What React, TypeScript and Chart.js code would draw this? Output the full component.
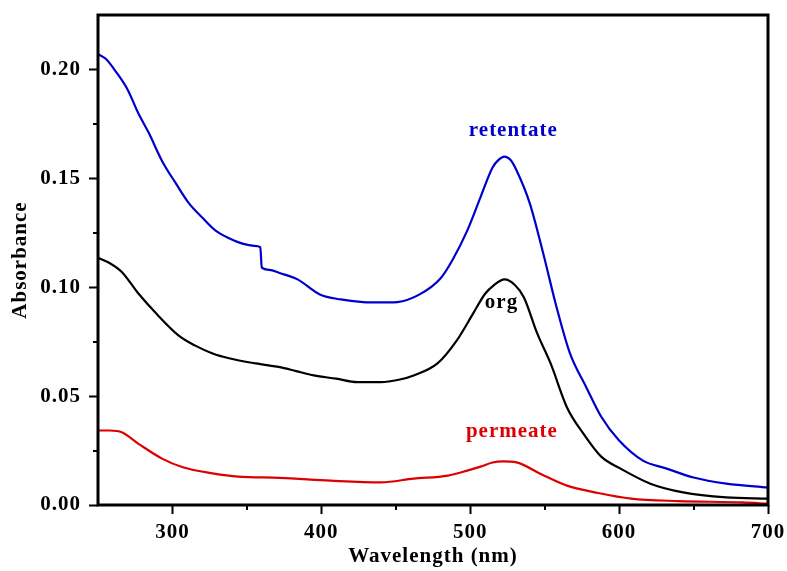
import React, { useEffect, useRef } from 'react';
import { Chart, registerables } from 'chart.js';

Chart.register(...registerables);

// ---- data ----
const retentateWl = [250, 255, 262, 270, 277, 284, 293, 302, 311, 320, 329, 338, 347, 355, 359, 360, 365, 372, 384, 399, 413, 428, 440, 451, 466, 480, 488, 498, 507, 515, 519, 523, 527, 531, 540, 549, 558, 567, 578, 588, 600, 616, 632, 650, 672, 700];
const retentateAbs = [0.207, 0.205, 0.199, 0.1906, 0.18, 0.171, 0.158, 0.148, 0.1386, 0.132, 0.126, 0.1225, 0.12, 0.119, 0.1184, 0.109, 0.108, 0.1065, 0.1036, 0.0967, 0.0944, 0.0932, 0.093, 0.0932, 0.0967, 0.104, 0.1124, 0.126, 0.1415, 0.155, 0.1585, 0.16, 0.1585, 0.1538, 0.1385, 0.1156, 0.0908, 0.0696, 0.054, 0.0405, 0.0296, 0.0204, 0.0167, 0.0126, 0.0098, 0.008];

const orgWl = [250, 258, 266, 277, 289, 304, 315, 327, 338, 356, 373, 383, 395, 410, 424, 440, 452, 462, 478, 491, 502, 510, 516, 523, 530, 536, 545, 554, 565, 576, 588, 601, 621, 643, 672, 700];
const orgAbs = [0.1135, 0.111, 0.107, 0.0972, 0.088, 0.0779, 0.0733, 0.0696, 0.0674, 0.065, 0.0632, 0.0615, 0.0595, 0.058, 0.0564, 0.0564, 0.0575, 0.0595, 0.065, 0.0756, 0.088, 0.097, 0.101, 0.1036, 0.101, 0.0954, 0.0788, 0.065, 0.0448, 0.0328, 0.0222, 0.0167, 0.0098, 0.0058, 0.0035, 0.0029];

const permeateWl = [250, 258, 266, 277, 293, 307, 327, 344, 372, 406, 440, 462, 485, 498, 507, 515, 522, 531, 547, 565, 586, 608, 640, 683, 700];
const permeateAbs = [0.0342, 0.0342, 0.0334, 0.0282, 0.0213, 0.0173, 0.0145, 0.013, 0.0125, 0.0112, 0.0104, 0.0121, 0.0135, 0.0158, 0.0176, 0.0195, 0.02, 0.0196, 0.0144, 0.0089, 0.0055, 0.0029, 0.0018, 0.0012, 0.0006];

const seriesNames = ['retentate', 'org', 'permeate'];
const seriesColors = ['#0000cc', '#000000', '#dd0000'];

const xTicks = [300, 400, 500, 600, 700];
const yTicks = [0, 0.05, 0.1, 0.15, 0.2];
const xMinorTicks = [350, 450, 550, 650];
const yMinorTicks = [0.025, 0.075, 0.125, 0.175];

const FONT_FAMILY = '"Liberation Serif", "Times New Roman", serif';

const framePlugin = {
  id: 'frameAndLabels',
  beforeLayout(chart: any) {
    chart.ctx.letterSpacing = '1px';
  },
  beforeDraw(chart: any) {
    chart.ctx.letterSpacing = '1px';
  },
  afterDatasetsDraw(chart: any, _args: any, opts: any) {
    const { ctx, chartArea, scales } = chart;
    const { left, top, right, bottom } = chartArea;
    const x = scales.x;
    const y = scales.y;
    ctx.save();
    ctx.strokeStyle = '#000';
    ctx.lineWidth = 2;
    ctx.beginPath();
    xMinorTicks.forEach((v) => {
      const px = Math.round(x.getPixelForValue(v));
      ctx.moveTo(px, bottom);
      ctx.lineTo(px, bottom + 5);
    });
    yMinorTicks.forEach((v) => {
      const py = Math.round(y.getPixelForValue(v));
      ctx.moveTo(left, py);
      ctx.lineTo(left - 5, py);
    });
    ctx.stroke();
    ctx.lineWidth = 3;
    ctx.strokeRect(left, top, right - left, bottom - top);
    ctx.font = `bold 21px ${FONT_FAMILY}`;
    ctx.letterSpacing = '1px';
    ctx.textAlign = 'center';
    ctx.textBaseline = 'alphabetic';
    (opts.labels || []).forEach((l: any) => {
      ctx.fillStyle = l.color;
      ctx.fillText(l.text, x.getPixelForValue(l.x), y.getPixelForValue(l.y));
    });
    ctx.restore();
  },
};

const zeroPad = (s: any) => {
  s.paddingTop = 0;
  s.paddingBottom = 0;
  s.paddingLeft = 0;
  s.paddingRight = 0;
};

export default function App() {
  const ref = useRef<HTMLCanvasElement>(null);

  useEffect(() => {
    if (!ref.current) return;
    const wls = [retentateWl, orgWl, permeateWl];
    const abss = [retentateAbs, orgAbs, permeateAbs];
    const tickFont = { family: FONT_FAMILY, size: 21, weight: 'bold' as const };
    const chart = new Chart(ref.current, {
      type: 'line',
      data: {
        datasets: seriesNames.map((name, i) => ({
          label: name,
          data: wls[i].map((w, j) => ({ x: w, y: abss[i][j] })),
          borderColor: seriesColors[i],
          backgroundColor: seriesColors[i],
          borderWidth: 2.2,
          pointRadius: 0,
          fill: false,
          cubicInterpolationMode: 'monotone' as const,
        })),
      },
      options: {
        responsive: false,
        animation: false,
        layout: { padding: { top: 15, right: 19, left: 0, bottom: 0 } },
        plugins: {
          legend: { display: false },
          tooltip: { enabled: false },
          frameAndLabels: {
            labels: [
              { text: seriesNames[0], color: seriesColors[0], x: 529, y: 0.1694 },
              { text: seriesNames[1], color: seriesColors[1], x: 521, y: 0.0903 },
              { text: seriesNames[2], color: seriesColors[2], x: 528, y: 0.031 },
            ],
          },
        } as any,
        scales: {
          x: {
            type: 'linear',
            min: 250,
            max: 700,
            afterBuildTicks: (s: any) => {
              s.ticks = xTicks.map((v) => ({ value: v }));
            },
            afterFit: (s: any) => {
              s.height = 66;
              zeroPad(s);
            },
            ticks: {
              font: tickFont,
              color: '#000',
              padding: 6,
              maxRotation: 0,
              autoSkip: false,
              callback: (v: any) => String(v),
            },
            grid: {
              drawOnChartArea: false,
              drawTicks: true,
              tickLength: 9,
              tickWidth: 2,
              tickColor: '#000',
              color: '#000',
            },
            border: { display: false },
            title: {
              display: true,
              text: 'Wavelength (nm)',
              color: '#000',
              font: tickFont,
              padding: { top: 0, bottom: 2 },
            },
          },
          y: {
            type: 'linear',
            min: 0,
            max: 0.225,
            afterBuildTicks: (s: any) => {
              s.ticks = yTicks.map((v) => ({ value: v }));
            },
            afterFit: (s: any) => {
              s.width = 98;
              zeroPad(s);
            },
            ticks: {
              font: tickFont,
              color: '#000',
              padding: 8,
              autoSkip: false,
              callback: (v: any) => Number(v).toFixed(2),
            },
            grid: {
              drawOnChartArea: false,
              drawTicks: true,
              tickLength: 9,
              tickWidth: 2,
              tickColor: '#000',
              color: '#000',
            },
            border: { display: false },
            title: {
              display: true,
              text: 'Absorbance',
              color: '#000',
              font: tickFont,
              padding: { top: 8, bottom: 0 },
            },
          },
        },
      },
      plugins: [framePlugin],
    });
    return () => chart.destroy();
  }, []);

  return (
    <div style={{ position: 'absolute', left: 0, top: 0, width: 787, height: 571, background: '#fff' }}>
      <canvas ref={ref} width={787} height={571} style={{ display: 'block' }} />
    </div>
  );
}
